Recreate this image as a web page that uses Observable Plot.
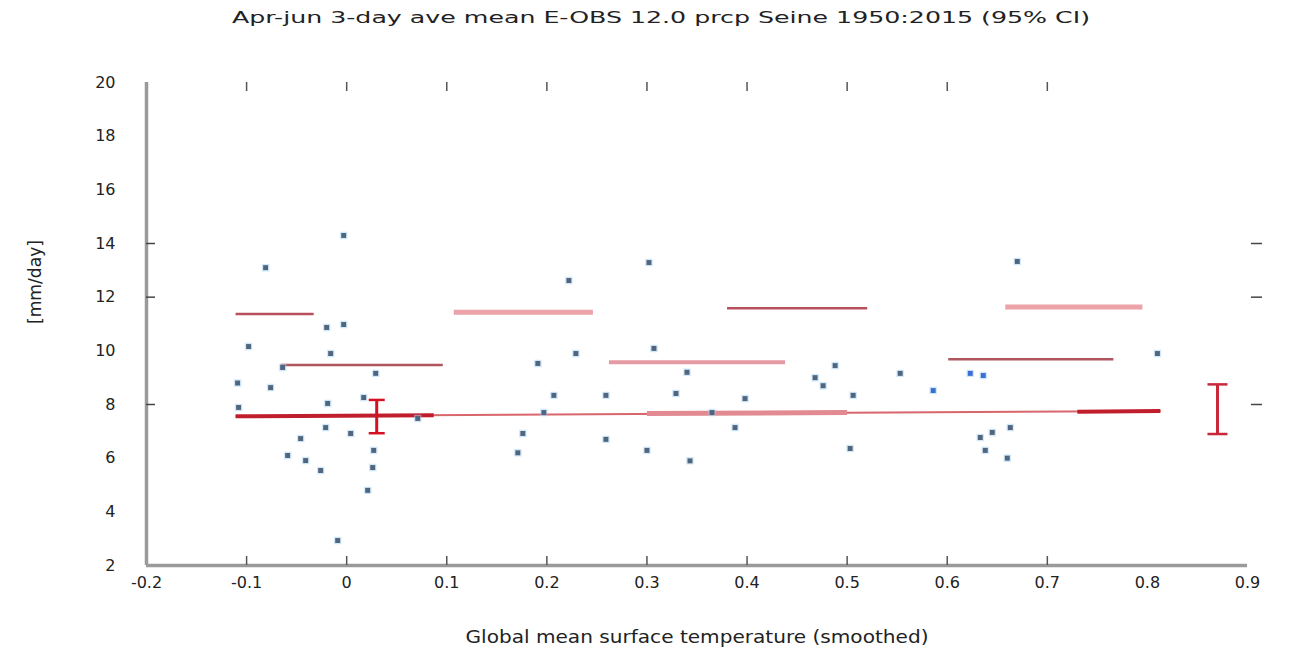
<!DOCTYPE html>
<html>
<head>
<meta charset="utf-8">
<script src="https://cdn.jsdelivr.net/npm/d3@7"></script>
<script src="https://cdn.jsdelivr.net/npm/@observablehq/plot@0.6"></script>
<style>
  html, body { margin: 0; padding: 0; background: #fff; }
  #title { position: relative; height: 36px; width: 1293px; font-family: "DejaVu Sans", sans-serif; font-size: 16px; color: #222; }
  #title span { position: absolute; top: 8px; left: 661px; white-space: nowrap; transform-origin: 0 0; }
  svg { display: block; }
</style>
</head>
<body>
<div id="title"><span id="ttext">Apr-jun 3-day ave mean E-OBS 12.0 prcp Seine 1950:2015 (95% CI)</span></div>
<div id="chart"></div>
<script>
// ---- data ----
const titleText = "Apr-jun 3-day ave mean E-OBS 12.0 prcp Seine 1950:2015 (95% CI)";
const xLabel = "Global mean surface temperature (smoothed)";
const yLabel = "[mm/day]";

const xTickLabels = [-0.2, -0.1, 0, 0.1, 0.2, 0.3, 0.4, 0.5, 0.6, 0.7, 0.8, 0.9];
const xTickMarks = [-0.1, 0, 0.1, 0.2, 0.3, 0.4, 0.5, 0.6, 0.7];
const yTickLabels = [2, 4, 6, 8, 10, 12, 14, 16, 18, 20];
const yTickMarks = [8, 12, 14];

// observations: GMST (x) vs precipitation (y)
const obsX = [-0.003, -0.081, -0.02, -0.003, -0.098, -0.016, -0.064, 0.029, -0.109, -0.076,
              0.017, -0.019, -0.108, 0.071, -0.021, 0.004, -0.046, -0.059, 0.027, -0.041,
              -0.026, 0.026, 0.021, -0.009,
              0.302, 0.222, 0.191, 0.229, 0.307, 0.207, 0.259, 0.329, 0.197, 0.176,
              0.259, 0.171, 0.3, 0.34,
              0.488, 0.468, 0.476, 0.553, 0.506, 0.586, 0.398, 0.365, 0.388, 0.503, 0.343,
              0.67, 0.623, 0.636, 0.81, 0.663, 0.633, 0.645, 0.638, 0.66];
const obsY = [14.3, 13.1, 10.87, 10.98, 10.16, 9.9, 9.38, 9.16, 8.8, 8.63,
              8.26, 8.04, 7.89, 7.48, 7.14, 6.92, 6.73, 6.1, 6.29, 5.91,
              5.54, 5.65, 4.8, 2.93,
              13.29, 12.62, 9.53, 9.9, 10.09, 8.34, 8.34, 8.41, 7.7, 6.92,
              6.7, 6.2, 6.29, 9.2,
              9.45, 9.0, 8.7, 9.16, 8.34, 8.52, 8.22, 7.7, 7.14, 6.36, 5.9,
              13.33, 9.16, 9.08, 9.9, 7.14, 6.77, 6.96, 6.29, 6.0];

// fitted mean line
const fitX1 = [-0.111], fitX2 = [0.813], fitY1 = [7.56], fitY2 = [7.76];
// thick pieces along the fitted line
const fitSegX1 = [-0.111, 0.3, 0.73], fitSegX2 = [0.087, 0.5, 0.813];
const fitSegY1 = [7.56, 7.66, 7.73], fitSegY2 = [7.6, 7.7, 7.76];
// upper return-level segments
const upX1 = [-0.111, 0.107, 0.38, 0.658], upX2 = [-0.033, 0.246, 0.52, 0.795];
const upY = [11.37, 11.44, 11.59, 11.63];
// middle return-level segments
const midX1 = [-0.066, 0.262, 0.601], midX2 = [0.096, 0.438, 0.766];
const midY = [9.47, 9.57, 9.69];
// error bars (95% CI)
const errX = [0.03, 0.87], errLo = [6.93, 6.9], errHi = [8.17, 8.75];

// ---- build tables ----
const obs = obsX.map((x, i) => ({x, y: obsY[i]}));
const fit = fitX1.map((x1, i) => ({x1, x2: fitX2[i], y1: fitY1[i], y2: fitY2[i]}));
const fitSeg = fitSegX1.map((x1, i) => ({x1, x2: fitSegX2[i], y1: fitSegY1[i], y2: fitSegY2[i], i}));
const up = upX1.map((x1, i) => ({x1, x2: upX2[i], y: upY[i], i}));
const mid = midX1.map((x1, i) => ({x1, x2: midX2[i], y: midY[i], i}));
const err = errX.map((x, i) => ({x, lo: errLo[i], hi: errHi[i], i}));

const xMin = xTickLabels[0], xMax = xTickLabels[xTickLabels.length - 1];
const yMin = yTickLabels[0], yMax = yTickLabels[yTickLabels.length - 1];
const capW = [0.008, 0.01];

const fmt = d => String(+d.toFixed(1));

const plot = Plot.plot({
  width: 1293,
  height: 628,
  marginTop: 46,
  marginBottom: 99,
  marginLeft: 146,
  marginRight: 46,
  x: {domain: [xMin, xMax]},
  y: {domain: [yMin, yMax]},
  style: {fontFamily: "DejaVu Sans, sans-serif", fontSize: "16px", color: "#222", background: "#fff"},
  marks: [
    // tick labels
    Plot.axisX({ticks: xTickLabels, tickSize: 0, tickPadding: 11, tickFormat: fmt, label: null, fontSize: 16}),
    Plot.axisY({ticks: yTickLabels, tickSize: 0, tickPadding: 31, tickFormat: fmt, label: null, fontSize: 16}),
    // axis lines
    Plot.ruleX([xMin], {y1: yMin, y2: yMax, stroke: "#9a9a9a", strokeWidth: 3.5}),
    Plot.ruleY([yMin], {x1: xMin, x2: xMax, stroke: "#9a9a9a", strokeWidth: 3.5}),
    // tick marks
    Plot.ruleX(xTickMarks, {y1: yMin, y2: yMin, insetBottom: 9, stroke: "#555", strokeWidth: 1.5}),
    Plot.ruleX(xTickMarks, {y1: yMax, y2: yMax, insetBottom: -9, stroke: "#555", strokeWidth: 1.5}),
    Plot.ruleY(yTickMarks, {x1: xMin, x2: xMin, insetRight: -9, stroke: "#444", strokeWidth: 1.5}),
    Plot.ruleY(yTickMarks, {x1: xMax, x2: xMax, insetLeft: 4, insetRight: -15, stroke: "#444", strokeWidth: 1.5}),
    // return level lines
    Plot.link(up, {x1: "x1", x2: "x2", y1: "y", y2: "y",
      stroke: d => d.i % 2 ? "#eba2a8" : "#b9505e",
      strokeWidth: d => d.i % 2 ? 5 : 2.5}),
    Plot.link(mid, {x1: "x1", x2: "x2", y1: "y", y2: "y",
      stroke: d => d.i % 2 ? "#e49aa2" : "#b0545e",
      strokeWidth: d => d.i % 2 ? 4 : 2.5}),
    // fitted line
    Plot.link(fit, {x1: "x1", x2: "x2", y1: "y1", y2: "y2", stroke: "#d9656d", strokeWidth: 2}),
    Plot.link(fitSeg, {x1: "x1", x2: "x2", y1: "y1", y2: "y2",
      stroke: d => d.i % 2 ? "#e28a92" : "#c01e2c",
      strokeWidth: d => d.i % 2 ? 5 : 4}),
    // observations
    Plot.dot(obs, {x: "x", y: "y", symbol: "square", r: 2.8,
      fill: d => (d.x > 0.57 && d.x < 0.65 && d.y > 8) ? "#3c6fd6" : "#51667e",
      stroke: "#a9d6f2", strokeWidth: 2.5, strokeOpacity: 0.55, paintOrder: "stroke"}),
    // error bars
    Plot.link(err, {x1: "x", x2: "x", y1: "lo", y2: "hi", stroke: d => d.i ? "#c8283a" : "#d51020", strokeWidth: 3}),
    Plot.link(err, {x1: d => d.x - capW[d.i], x2: d => d.x + capW[d.i], y1: "lo", y2: "lo", stroke: d => d.i ? "#c8283a" : "#d51020", strokeWidth: 2.5}),
    Plot.link(err, {x1: d => d.x - capW[d.i], x2: d => d.x + capW[d.i], y1: "hi", y2: "hi", stroke: d => d.i ? "#c8283a" : "#d51020", strokeWidth: 2.5}),
    // axis titles
    Plot.text([yLabel], {frameAnchor: "left", dx: -111, rotate: -90, fontSize: 17, fill: "#222"}),
    Plot.text([xLabel], {frameAnchor: "bottom", dy: 72, lineAnchor: "middle", fontSize: 17, fill: "#222"})
  ]
});
document.getElementById("chart").appendChild(plot);

// stretch axis titles to the reference's widths
d3.select(plot).selectAll("text").filter(function() { return this.textContent === xLabel; })
  .attr("textLength", 463).attr("lengthAdjust", "spacingAndGlyphs");
d3.select(plot).selectAll("text").filter(function() { return this.textContent === yLabel; })
  .attr("textLength", 84).attr("lengthAdjust", "spacingAndGlyphs");

// title stretch and placement (center ~661px, width ~858px)
const t = document.getElementById("ttext");
t.textContent = titleText;
const w = t.getBoundingClientRect().width;
const s = 858 / w;
t.style.transform = `scaleX(${s})`;
t.style.left = (661 - 858 / 2) + "px";
</script>
</body>
</html>
